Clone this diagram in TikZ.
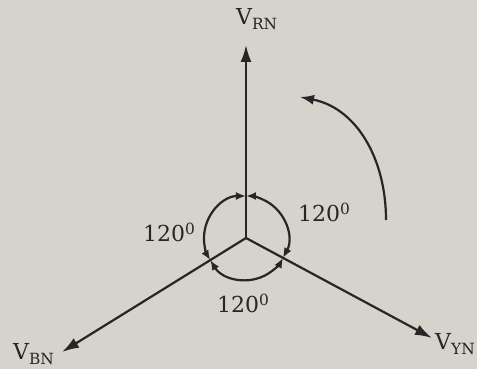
\documentclass[tikz,border=0pt]{standalone}
\usepackage{fontspec}
\setmainfont{DejaVu Serif}
\usetikzlibrary{arrows.meta}
\definecolor{paper}{RGB}{214,210,204}
\definecolor{ink}{RGB}{38,38,38}
\begin{document}
\begin{tikzpicture}[x=1pt,y=1pt,
  phasor/.style={draw=ink,line width=2.2pt,-{Latex[length=17pt,width=11pt]}},
  arcarrow/.style={draw=ink,line width=2.2pt,{Latex[length=10pt,width=8pt]}-{Latex[length=10pt,width=8pt]}},
  rotarrow/.style={draw=ink,line width=2.2pt,-{Latex[length=14pt,width=10pt]}},
  lbl/.style={text=ink,font=\fontsize{22}{26}\selectfont,inner sep=0pt,anchor=base west}]
\fill[paper] (-246,-131) rectangle (231,238);
\useasboundingbox (-246,-131) rectangle (231,238);
\coordinate (O) at (0,0);
\coordinate (R) at (0,193);
\coordinate (B) at (-184,-114);
\coordinate (Y) at (186,-100);
\draw[phasor] (O) -- (R);
\draw[phasor] (O) -- (B);
\draw[phasor] (O) -- (Y);
\draw[arcarrow] (90:42) arc (90:211.8:42);
\draw[arcarrow] (211.8:42) arc (211.8:331.7:42);
\draw[arcarrow] (331.7:42) arc (331.7:450:42);
\coordinate (s) at (140,18);
\coordinate (e) at (54,141);
\draw[rotarrow] (s) .. controls (140,80) and (110,130) .. (e);
\node[lbl] (vrn) at (-10,213) {V\textsubscript{RN}};
\node[lbl] (vbn) at (-233,-122) {V\textsubscript{BN}};
\node[lbl] (vyn) at (189,-112) {V\textsubscript{YN}};
\node[lbl] (a1) at (-103,-4) {120\textsuperscript{0}};
\node[lbl] (a2) at (52,16) {120\textsuperscript{0}};
\node[lbl] (a3) at (-29,-75) {120\textsuperscript{0}};
\end{tikzpicture}
\end{document}
